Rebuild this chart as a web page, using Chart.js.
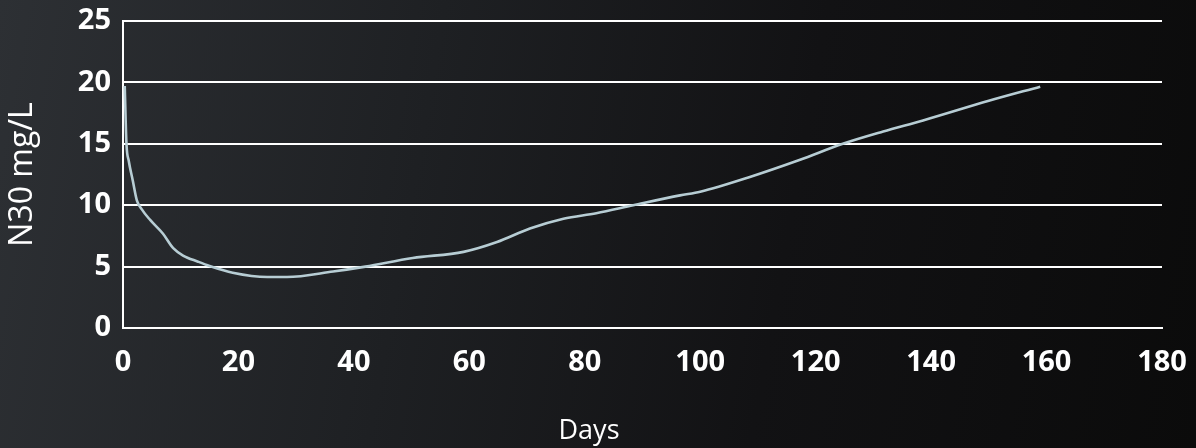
<!DOCTYPE html>
<html>
<head>
<meta charset="utf-8">
<script src="https://cdn.jsdelivr.net/npm/chart.js@4.4.1/dist/chart.umd.min.js"></script>
<style>
  html, body { margin: 0; padding: 0; }
  body {
    width: 1196px; height: 448px; overflow: hidden;
    background: linear-gradient(100deg, #2d3034 0%, #1e2023 35%, #121214 65%, #0b0b0b 100%);
  }
  #wrap { position: relative; width: 1196px; height: 448px; }
</style>
</head>
<body>
<div id="wrap"><canvas id="c" width="1196" height="448"></canvas></div>
<script>
const days = [0.3, 0.6, 1.0, 1.7, 2.4, 3.2, 4.7, 6.9, 8.7, 10.4, 13, 15, 19, 25, 28.4, 36.4, 42, 50.2, 59, 64.8, 70.5, 76.3, 82, 88.4, 96.5, 100, 108.6, 117.3, 124.7, 131.7, 138.6, 150, 158.9];
const n30 = [19.7, 15.0, 13.6, 12.0, 10.4, 9.7, 8.8, 7.7, 6.5, 5.9, 5.4, 5.05, 4.5, 4.15, 4.15, 4.6, 5.0, 5.7, 6.2, 7.0, 8.1, 8.9, 9.35, 10.0, 10.8, 11.1, 12.3, 13.7, 15.0, 16.0, 16.9, 18.5, 19.65];
const xTicks = [0, 20, 40, 60, 80, 100, 120, 140, 160, 180];
const yTicks = [0, 5, 10, 15, 20, 25];
const xTitle = 'Days';
const yTitle = 'N30 mg/L';

const points = days.map((d, i) => ({ x: d, y: n30[i] }));
const tickFont = { family: '"Open Sans", sans-serif', size: 29, weight: '700' };

const xTitlePlugin = {
  id: 'xTitlePlugin',
  afterDraw(chart) {
    const ctx = chart.ctx;
    ctx.save();
    ctx.fillStyle = '#ffffff';
    ctx.font = '27px "Open Sans", sans-serif';
    ctx.textAlign = 'center';
    ctx.textBaseline = 'middle';
    ctx.fillText(xTitle, 589, 431);
    ctx.restore();
  }
};

new Chart(document.getElementById('c'), {
  type: 'line',
  data: {
    datasets: [{
      data: points,
      borderColor: '#b7cdd4',
      borderWidth: 2.6,
      pointRadius: 0,
      fill: false,
      cubicInterpolationMode: 'monotone'
    }]
  },
  options: {
    responsive: false,
    animation: false,
    layout: { autoPadding: false, padding: { top: 21, right: 34, left: 0, bottom: 0 } },
    plugins: { legend: { display: false }, tooltip: { enabled: false } },
    scales: {
      x: {
        type: 'linear', min: 0, max: 180,
        afterBuildTicks: s => { s.ticks = xTicks.map(v => ({ value: v })); },
        afterFit: s => { s.height = 120; s.paddingLeft = 0; s.paddingRight = 0; },
        grid: { display: false, drawTicks: false },
        border: { display: true, color: '#ffffff', width: 2 },
        ticks: { color: '#ffffff', font: tickFont, padding: 17, maxRotation: 0 },
        title: { display: false, text: xTitle }
      },
      y: {
        min: 0, max: 25,
        afterBuildTicks: s => { s.ticks = yTicks.map(v => ({ value: v })); },
        afterFit: s => { s.width = 123; s.paddingTop = 0; s.paddingBottom = 0; },
        grid: { color: '#ffffff', lineWidth: 2, drawTicks: false },
        border: { display: true, color: '#ffffff', width: 2 },
        ticks: { color: '#ffffff', font: tickFont, padding: 12 },
        title: { display: true, text: yTitle, color: '#ffffff',
                 font: { family: '"Open Sans", sans-serif', size: 32 }, padding: { top: 4, bottom: 0 } }
      }
    }
  },
  plugins: [xTitlePlugin]
});
</script>
</body>
</html>
